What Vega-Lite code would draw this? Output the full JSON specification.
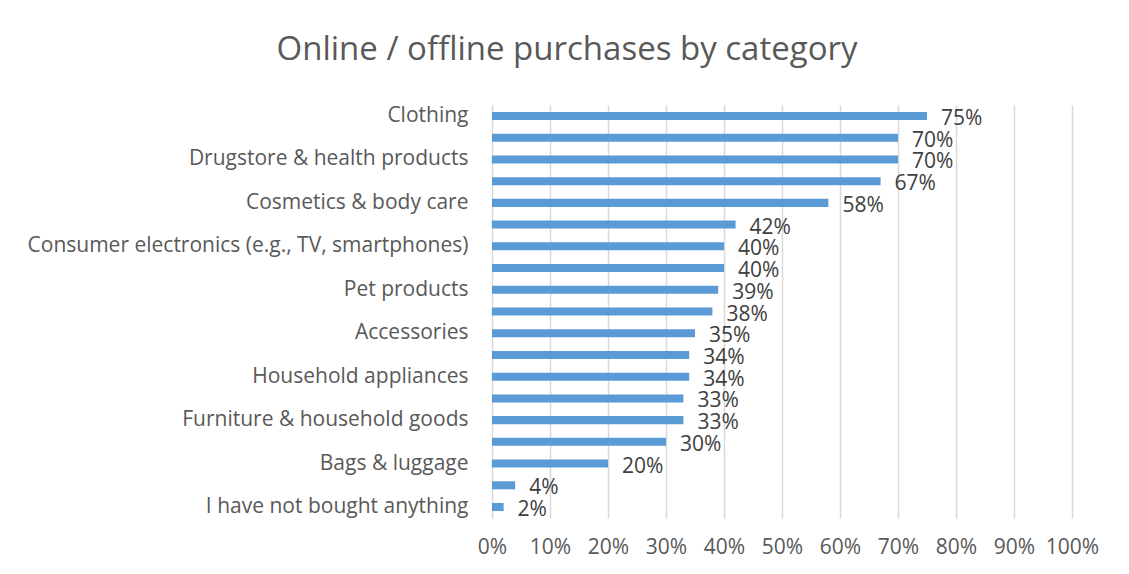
{
  "$schema": "https://vega.github.io/schema/vega-lite/v6.json",
  "autosize": "none",
  "width": 580,
  "height": 413,
  "padding": {"left": 492, "top": 105, "right": 57, "bottom": 56},
  "background": "white",
  "title": {
    "text": "Online / offline purchases by category",
    "font": "Open Sans",
    "fontSize": 33,
    "fontWeight": "normal",
    "color": "#595959",
    "anchor": "middle",
    "frame": "group",
    "dx": -215,
    "offset": 37
  },
  "data": {
    "values": [
      {"category": "Clothing", "share": 0.75},
      {"category": "Shoes", "share": 0.70},
      {"category": "Drugstore & health products", "share": 0.70},
      {"category": "Books, movies, music & games", "share": 0.67},
      {"category": "Cosmetics & body care", "share": 0.58},
      {"category": "Food & beverages", "share": 0.42},
      {"category": "Consumer electronics (e.g., TV, smartphones)", "share": 0.40},
      {"category": "Toys & baby products", "share": 0.40},
      {"category": "Pet products", "share": 0.39},
      {"category": "Hobby & stationery", "share": 0.38},
      {"category": "Accessories", "share": 0.35},
      {"category": "Sports & outdoor", "share": 0.34},
      {"category": "Household appliances", "share": 0.34},
      {"category": "DIY & garden", "share": 0.33},
      {"category": "Furniture & household goods", "share": 0.33},
      {"category": "Jewelry & watches", "share": 0.30},
      {"category": "Bags & luggage", "share": 0.20},
      {"category": "Other", "share": 0.04},
      {"category": "I have not bought anything", "share": 0.02}
    ]
  },
  "encoding": {
    "y": {
      "field": "category",
      "type": "nominal",
      "sort": null,
      "scale": {"paddingInner": 0.63, "paddingOuter": 0.32},
      "axis": {
        "title": null,
        "values": ["Clothing", "Drugstore & health products", "Cosmetics & body care", "Consumer electronics (e.g., TV, smartphones)", "Pet products", "Accessories", "Household appliances", "Furniture & household goods", "Bags & luggage", "I have not bought anything"],
        "ticks": false,
        "domain": false,
        "labelFont": "Open Sans",
        "labelFontSize": 21,
        "labelColor": "#595959",
        "labelPadding": 24,
        "labelLimit": 600
      }
    },
    "x": {
      "field": "share",
      "type": "quantitative",
      "scale": {"domain": [0, 1], "nice": false},
      "axis": {
        "title": null,
        "values": [0, 0.1, 0.2, 0.3, 0.4, 0.5, 0.6, 0.7, 0.8, 0.9, 1],
        "format": ".0%",
        "labelOverlap": false,
        "labelFlush": false,
        "ticks": false,
        "domain": false,
        "grid": true,
        "gridColor": "#d9d9d9",
        "gridWidth": 1.5,
        "labelFont": "Open Sans",
        "labelFontSize": 21,
        "labelColor": "#595959",
        "labelPadding": 18
      }
    }
  },
  "layer": [
    {"mark": {"type": "bar", "color": "#5b9bd5"}},
    {
      "mark": {"type": "text", "align": "left", "baseline": "middle", "dx": 14, "dy": 3, "font": "Open Sans", "fontSize": 21, "color": "#404040"},
      "encoding": {"text": {"field": "share", "type": "quantitative", "format": ".0%"}}
    }
  ],
  "config": {"view": {"stroke": null}}
}
